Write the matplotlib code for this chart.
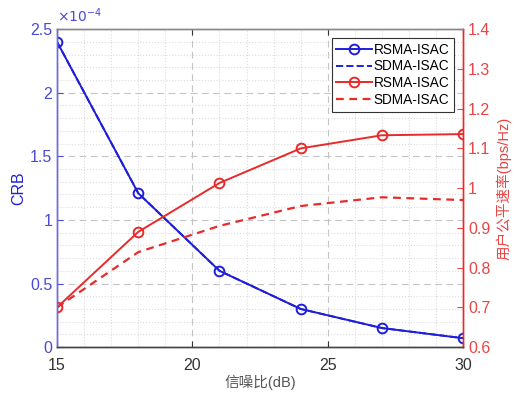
import numpy as np
import matplotlib
matplotlib.use('Agg')
import matplotlib.pyplot as plt
from matplotlib.ticker import MultipleLocator, FuncFormatter

plt.rcParams['font.family'] = ['Liberation Sans', 'Noto Sans CJK SC', 'DejaVu Sans']
plt.rcParams['font.size'] = 11

snr = [15, 18, 21, 24, 27, 30]
crb_rsma = [2.40, 1.21, 0.60, 0.30, 0.15, 0.07]   # x 1e-4
crb_sdma = [2.40, 1.21, 0.60, 0.30, 0.15, 0.07]   # overlaps RSMA curve
rate_rsma = [0.70, 0.89, 1.013, 1.10, 1.133, 1.136]
rate_sdma = [0.70, 0.839, 0.905, 0.955, 0.977, 0.970]
labels = ['RSMA-ISAC', 'SDMA-ISAC', 'RSMA-ISAC', 'SDMA-ISAC']

blue = '#1f1fd8'
blue_txt = '#4a4ad8'
red = '#e82a2a'
red_txt = '#e84545'
grey = '#444444'

fig = plt.figure(figsize=(5.14, 3.94), dpi=100)
ax = fig.add_axes([0.111, 0.119, 0.790, 0.807])
ax2 = ax.twinx()

l2, = ax.plot(snr, crb_sdma, '--', color=blue, lw=1.4)
l1, = ax.plot(snr, crb_rsma, '-o', color=blue, lw=1.4, ms=7, mfc='none', mew=1.4)
l3, = ax2.plot(snr, rate_rsma, '-o', color=red, lw=1.4, ms=7, mfc='none', mew=1.4)
l4, = ax2.plot(snr, rate_sdma, '--', color=red, lw=1.6, dashes=(3.5, 2.5))

ax.set_xlim(15, 30)
ax.set_ylim(0, 2.5)
ax2.set_ylim(0.6, 1.4)
ax.xaxis.set_major_locator(MultipleLocator(5))
ax.xaxis.set_minor_locator(MultipleLocator(1))
ax.yaxis.set_major_locator(MultipleLocator(0.5))
ax.yaxis.set_minor_locator(MultipleLocator(0.1))
ax2.yaxis.set_major_locator(MultipleLocator(0.1))
fmt = FuncFormatter(lambda v, p: '%g' % round(v, 3))
ax.yaxis.set_major_formatter(fmt)
ax2.yaxis.set_major_formatter(fmt)

ax.grid(which='major', color='#c4c4c4', ls=(0, (6, 4)), lw=0.8)
ax.grid(which='minor', color='#dcdcdc', ls=':', lw=0.8)

ax.tick_params(axis='x', which='major', direction='in', length=4, colors='#333333',
               top=True, pad=8, labelsize=11.5)
ax.tick_params(axis='x', which='minor', length=0, top=False)
ax.tick_params(axis='y', which='major', direction='in', length=4, colors=blue_txt,
               labelsize=11.5)
ax.tick_params(axis='y', which='minor', length=0)
ax2.tick_params(axis='y', direction='in', length=4, colors=red_txt, labelsize=11.5)

for a in (ax, ax2):
    a.spines['top'].set_color('#888888')
    a.spines['bottom'].set_color(grey)
    a.spines['left'].set_color('#6a6ae0')
    a.spines['right'].set_color(red)
    for s in a.spines.values():
        s.set_linewidth(1.0)

ax.set_ylabel('CRB', color=blue, fontsize=11.5, labelpad=3)
ax2.set_ylabel('用户公平速率(bps/Hz)', color=red_txt, fontsize=10.5, labelpad=4)
ax.set_xlabel('信噪比(dB)', color='#555555', fontsize=10.5, labelpad=1)
ax.text(0.0, 1.012, r'$\times10^{-4}$', transform=ax.transAxes, color=blue_txt,
        fontsize=10, ha='left', va='bottom')

leg = ax2.legend([l1, l2, l3, l4], labels, loc='upper right', fontsize=9.8,
                 fancybox=False, framealpha=1, edgecolor='#333333',
                 borderaxespad=0.65, handlelength=2.6, handletextpad=0.15,
                 labelspacing=0.2, borderpad=0.35)
leg.get_frame().set_linewidth(0.8)

fig.savefig('out.png', dpi=100)
